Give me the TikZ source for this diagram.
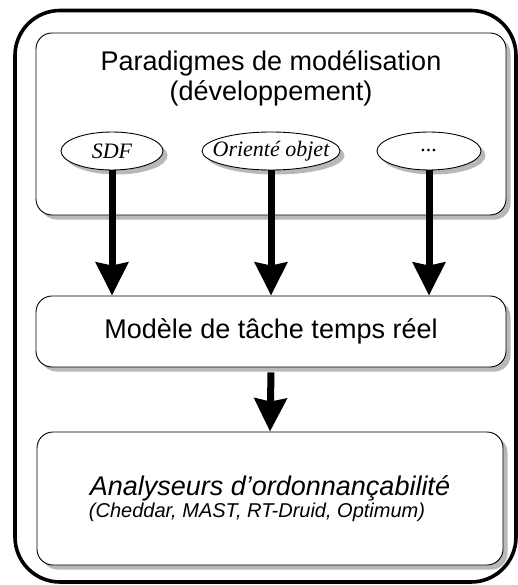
\documentclass[tikz,border=0pt]{standalone}
\usepackage{fontspec}
\setmainfont{Liberation Sans}
\newfontfamily\timesit{Liberation Serif}
\usetikzlibrary{arrows.meta,shadows,shapes.geometric}
\tikzset{
  shad/.style={drop shadow={shadow xshift=4.5pt,shadow yshift=-4.5pt,fill=black!28,opacity=1}},
  panel/.style={draw=black,line width=0.9pt,rounded corners=16pt,fill=white,shad},
  oval/.style={ellipse,draw=black,line width=0.9pt,fill=white,shad,inner sep=0pt,minimum height=38pt},
  ovaltext/.style={font=\timesit\itshape\fontsize{22}{26}\selectfont,inner sep=0pt},
  bigarrow/.style={line width=7pt,-{Stealth[length=33pt,width=32pt,inset=3pt]}},
}
\begin{document}
\begin{tikzpicture}[x=1pt,y=-1pt]
\useasboundingbox (0,0) rectangle (518,585);
\draw[line width=3.6pt,rounded corners=45pt] (15,10.5) rectangle (516,582);
\node[panel,minimum width=470pt,minimum height=182pt] (top) at (271,124) {};
\node[font=\fontsize{27}{30}\selectfont,align=center] (title) at (271,78) {Paradigmes de modélisation\\(développement)};
\node[oval,minimum width=102pt] (sdf) at (112,151) {};
\node[ovaltext] (sdft) at (sdf) {SDF};
\node[oval,minimum width=138pt] (oo) at (271,151) {};
\node[ovaltext] (oot) at (oo) {Orienté objet};
\node[oval,minimum width=104pt] (etc) at (429,151) {};
\node[ovaltext] (etct) at (etc) {...};
\node[panel,minimum width=470pt,minimum height=71pt,font=\fontsize{27}{30}\selectfont] (mid) at (271,331.5) {Modèle de tâche temps réel};
\node[panel,minimum width=466pt,minimum height=133pt] (bot) at (270,498.5) {};
\node[font=\itshape\fontsize{27}{30}\selectfont] (bt1) at (270,488) {Analyseurs d’ordonnançabilité};
\node[font=\itshape\fontsize{20}{24}\selectfont] (bt2) at (257,512) {(Cheddar, MAST, RT-Druid, Optimum)};
\draw[bigarrow] (sdf.south) -- (sdf.south |- mid.north);
\draw[bigarrow] (oo.south) -- (oo.south |- mid.north);
\draw[bigarrow] (etc.south) -- (etc.south |- mid.north);
\draw[bigarrow] ([yshift=-5pt]mid.south) -- (bot.north);
\end{tikzpicture}
\end{document}
